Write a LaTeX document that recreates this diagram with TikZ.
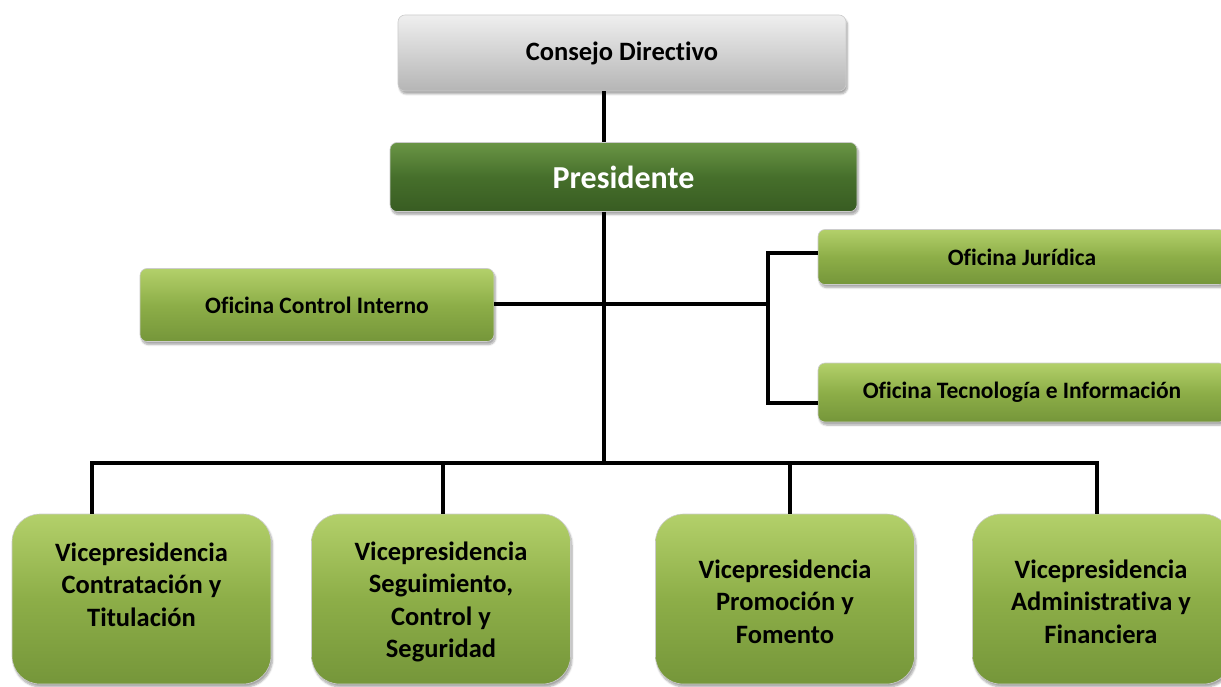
\documentclass[tikz,border=0pt]{standalone}
\usepackage{fontspec}
\setmainfont[Ligatures=NoCommon]{Carlito}
\usetikzlibrary{shadows.blur}
\definecolor{gtop}{HTML}{B3D06A}
\definecolor{gmid}{HTML}{8DAE48}
\definecolor{gbot}{HTML}{75963A}
\definecolor{ptop}{HTML}{6A9545}
\definecolor{pmid}{HTML}{466F2B}
\definecolor{pbot}{HTML}{385C22}
\definecolor{ctop}{HTML}{EFEFEF}
\definecolor{cmid}{HTML}{D2D2D2}
\definecolor{cbot}{HTML}{B5B5B5}
\begin{document}
\begin{tikzpicture}[x=1pt,y=-1pt,
  box/.style={rounded corners=7pt, draw=black!20, line width=0.6pt, inner sep=0pt,
    blur shadow={shadow xshift=1.5pt, shadow yshift=-3pt, shadow blur steps=6, shadow opacity=35},
    font=\bfseries, align=center},
  greenbox/.style={box, top color=gtop, bottom color=gbot, middle color=gmid},
  presbox/.style={box, top color=ptop, bottom color=pbot, middle color=pmid, text=white},
  graybox/.style={box, top color=ctop, bottom color=cbot, middle color=cmid},
  vicebox/.style={greenbox, rounded corners=28pt, minimum width=259pt, minimum height=170pt},
  vicetext/.style={font=\fontsize{26.5}{32.6}\selectfont\bfseries, align=center, inner sep=0pt},
  conn/.style={line width=3.4pt, black}
]
\useasboundingbox (0,0) rectangle (1221,687);

% nodes
\node[graybox, minimum width=448pt, minimum height=76pt, font=\fontsize{26.5}{30}\selectfont\bfseries] (cd) at (622,53) {Consejo Directivo};
\node[presbox, minimum width=467pt, minimum height=69pt, font=\fontsize{32}{36}\selectfont\bfseries] (pres) at (623.5,177) {Presidente};
\node[greenbox, minimum width=354pt, minimum height=73pt, font=\fontsize{23.5}{28}\selectfont\bfseries] (oci) at (317,305) {Oficina Control Interno};
\node[greenbox, minimum width=408pt, minimum height=55pt, font=\fontsize{23.5}{28}\selectfont\bfseries] (oj) at (1022,257) {Oficina Jurídica};
\node[greenbox, minimum width=408pt, minimum height=59pt, font=\fontsize{23.5}{28}\selectfont\bfseries] (ot) at (1022,392.5) {Oficina Tecnología e Información};

\node[vicebox] (v1) at (141.5,599) {};
\node[vicebox] (v2) at (441,599) {};
\node[vicebox] (v3) at (785,599) {};
\node[vicebox] (v4) at (1102,599) {};
\node[vicetext] (v1t) at (141.5,584.5) {Vicepresidencia\\Contratación y\\Titulación};
\node[vicetext] (v2t) at (441,602) {Vicepresidencia\\Seguimiento,\\Control y\\Seguridad};
\node[vicetext] (v3t) at (785,601.5) {Vicepresidencia\\Promoción y\\Fomento};
\node[vicetext] (v4t) at (1101,601.5) {Vicepresidencia\\Administrativa y\\Financiera};

% connectors
\coordinate (trunk) at (604,463);
\coordinate (br) at (768,304);
\coordinate (bjt) at (768,253);
\coordinate (bjb) at (768,403);
\coordinate (d1) at (92,463);
\coordinate (d2) at (443,463);
\coordinate (d3) at (790,463);
\coordinate (d4) at (1097,463);

\draw[conn] (cd.south -| trunk) -- (pres.north -| trunk);
\draw[conn] (pres.south -| trunk) -- (trunk);
\draw[conn] (oci.east |- br) -- (br);
\draw[conn] (oj.west |- bjt) -- (bjt) -- (bjb) -- (ot.west |- bjb);
\draw[conn] ([xshift=-1.7pt]d1) -- ([xshift=1.7pt]d4);
\draw[conn] (d1) -- (d1 |- v1.north);
\draw[conn] (d2) -- (d2 |- v2.north);
\draw[conn] (d3) -- (d3 |- v3.north);
\draw[conn] (d4) -- (d4 |- v4.north);
\end{tikzpicture}
\end{document}
